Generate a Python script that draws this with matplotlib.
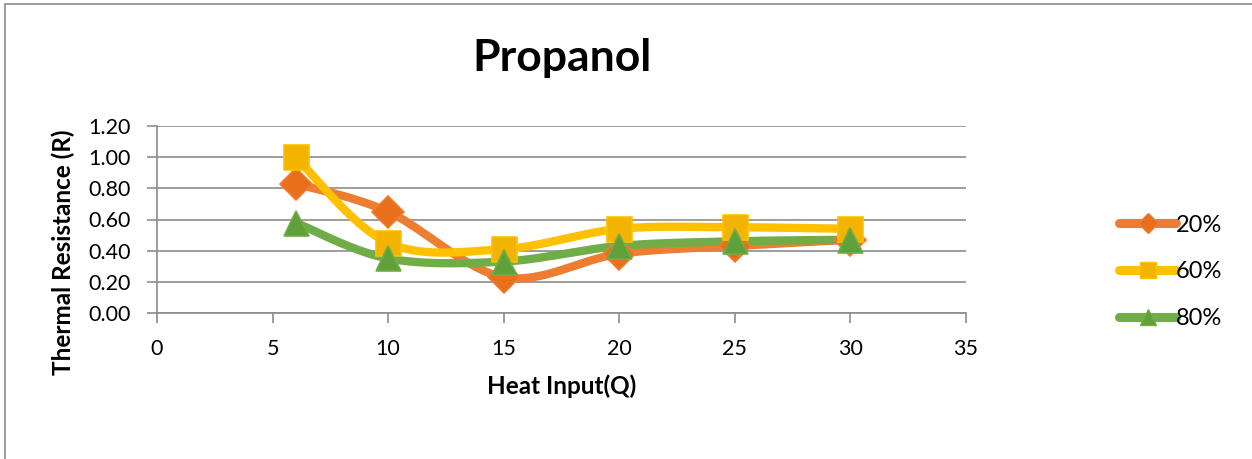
import numpy as np
import matplotlib
matplotlib.use("Agg")
import matplotlib.pyplot as plt
from matplotlib.lines import Line2D
from matplotlib.patches import Rectangle

heat_input = [6, 10, 15, 20, 25, 30]
r_20 = [0.83, 0.65, 0.23, 0.38, 0.43, 0.47]
r_60 = [1.00, 0.45, 0.41, 0.54, 0.55, 0.54]
r_80 = [0.58, 0.35, 0.33, 0.43, 0.46, 0.47]
series_labels = ["20%", "60%", "80%"]
title = "Propanol"
xlabel = "Heat Input(Q)"
ylabel = "Thermal Resistance (R)"

plt.rcParams['font.family'] = ['Lato', 'DejaVu Sans']

def smooth(xs, ys, n=40):
    # Excel-style smoothed line (cardinal Bezier through the points)
    P = np.column_stack([xs, ys]).astype(float)
    ext = np.vstack([P[0], P, P[-1]])
    out = []
    t = np.linspace(0, 1, n)[:, None]
    for i in range(1, len(ext) - 2):
        p0, p1, p2, p3 = ext[i - 1], ext[i], ext[i + 1], ext[i + 2]
        c1 = p1 + (p2 - p0) / 6
        c2 = p2 - (p3 - p1) / 6
        seg = ((1 - t) ** 3) * p1 + 3 * ((1 - t) ** 2) * t * c1 + 3 * (1 - t) * t ** 2 * c2 + t ** 3 * p2
        out.append(seg if i == 1 else seg[1:])
    seg = np.vstack(out)
    return seg[:, 0], seg[:, 1]

W, H = 1252, 459
fig = plt.figure(figsize=(W / 100, H / 100), dpi=100)
fig.patches.append(Rectangle((5 / W, -0.1), 1.2, 1 - 4 / H + 0.1, transform=fig.transFigure,
                             fill=False, edgecolor='#8c8c8c', linewidth=1.2))

ax = fig.add_axes([157 / W, 1 - 313 / H, (966 - 157) / W, (313 - 126) / H])

styles = [
    (r_20, '#ED7D31', 'D', '#E8701A', '#ED7D31', 16),
    (r_60, '#FFC000', 's', '#F2B400', '#FFC000', 18),
    (r_80, '#70AD47', '^', '#5FA03A', '#70AD47', 18),
]
handles = []
for (vals, col, mk, mface, medge, ms), lab in zip(styles, series_labels):
    sx, sy = smooth(heat_input, vals)
    ax.plot(sx, sy, color=col, lw=6, solid_capstyle='round', zorder=3)
    ax.plot(heat_input, vals, linestyle='none', marker=mk, markersize=ms,
            markerfacecolor=mface, markeredgecolor=medge, markeredgewidth=1.2, zorder=4)
    handles.append(Line2D([0], [0], color=col, lw=6.5, solid_capstyle='round', marker=mk,
                          markersize=ms * 0.65, markerfacecolor=mface, markeredgecolor=medge))

ax.set_xlim(0, 35)
ax.set_ylim(0, 1.2)
ax.set_xticks(range(0, 36, 5))
ax.set_yticks(np.arange(0, 1.21, 0.2))
ax.set_yticklabels([f"{v:.2f}" for v in np.arange(0, 1.21, 0.2)])
ax.yaxis.grid(True, color='#8c8c8c', linewidth=1.2)
ax.set_axisbelow(True)
for s in ['top', 'right']:
    ax.spines[s].set_visible(False)
for s in ['left', 'bottom']:
    ax.spines[s].set_color('#8c8c8c')
    ax.spines[s].set_linewidth(1.2)
ax.tick_params(axis='both', colors='#8c8c8c', labelcolor='black', labelsize=15.5,
               length=7, width=1.2, direction='out')
ax.tick_params(axis='x', pad=12)
ax.tick_params(axis='y', pad=12)

fig.text(562 / W, 1 - 386 / H, xlabel, fontsize=17.5, fontweight='bold', ha='center', va='center')
fig.text(63 / W, 1 - 252 / H, ylabel, fontsize=17.5, fontweight='bold', ha='center', va='center',
         rotation=90)
fig.text(562 / W, 1 - 58 / H, title, fontsize=32, fontweight='bold', ha='center', va='center')

fig.legend(handles, series_labels, loc='center left', bbox_to_anchor=(1098 / W, 1 - 272 / H),
           frameon=False, fontsize=17, handlelength=2.4, handletextpad=0.0, labelspacing=1.1)

fig.savefig("out.png", dpi=100)
